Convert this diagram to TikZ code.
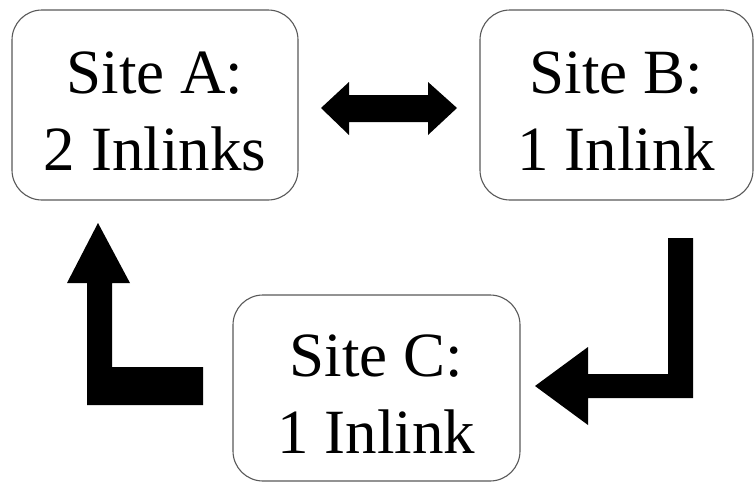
\documentclass[tikz,border=0pt]{standalone}
\usepackage{fontspec}
\setmainfont{Liberation Serif}
\newcommand{\topstrut}{\rule{0pt}{54pt}}
\begin{document}
\begin{tikzpicture}[x=1pt,y=-1pt,
  site/.style={draw=black!65, line width=1.1pt, rounded corners=30pt, fill=white,
    align=center, inner sep=0pt, font=\fontsize{63}{77}\selectfont},
  blockarrow/.style={fill=black, draw=none}]
\useasboundingbox (0,0) rectangle (755,482);
\node[site, minimum width=286pt, minimum height=190pt] (A) at (155,105) {\topstrut Site A:\\2 Inlinks};
\node[site, minimum width=273pt, minimum height=190pt] (B) at (616.5,105) {\topstrut Site B:\\1 Inlink};
\node[site, minimum width=287pt, minimum height=186pt] (C) at (376.5,388) {\topstrut Site C:\\1 Inlink};
% double arrow A <-> B
\fill[blockarrow] (321,108) -- (349,82) -- (349,95) -- (428,95) -- (428,82) -- (457,108)
  -- (428,135) -- (428,122) -- (349,122) -- (349,135) -- cycle;
% C -> A
\fill[blockarrow] (98,223) -- (130,283) -- (112,283) -- (112,367) -- (203,367) -- (203,405)
  -- (87,405) -- (87,283) -- (67,283) -- cycle;
% B -> C
\fill[blockarrow] (668,238) -- (693,238) -- (693,398) -- (588,398) -- (588,425) -- (535,386)
  -- (588,347) -- (588,374) -- (668,374) -- cycle;
\end{tikzpicture}
\end{document}
